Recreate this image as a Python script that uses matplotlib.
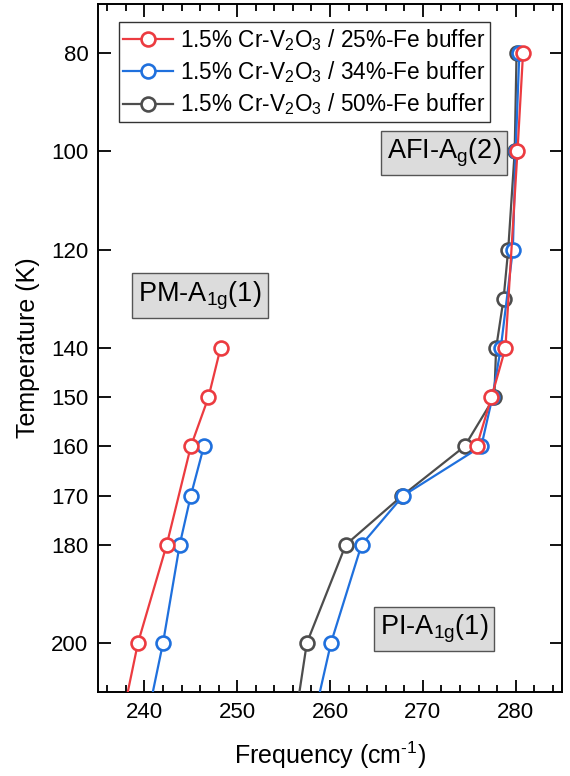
import numpy as np
import matplotlib
matplotlib.use('Agg')
from matplotlib import pyplot as plt

plt.rcParams['font.family'] = ['Liberation Sans', 'DejaVu Sans']
plt.rcParams['mathtext.fontset'] = 'custom'
plt.rcParams['mathtext.rm'] = 'Liberation Sans'
plt.rcParams['mathtext.it'] = 'Liberation Sans:italic'

#series labels and colours
labels = ['1.5% Cr-V$_\\mathregular{2}$O$_\\mathregular{3}$ / 25%-Fe buffer',
          '1.5% Cr-V$_\\mathregular{2}$O$_\\mathregular{3}$ / 34%-Fe buffer',
          '1.5% Cr-V$_\\mathregular{2}$O$_\\mathregular{3}$ / 50%-Fe buffer']
colors = ['#ec3b40', '#1f70dd', '#4d4d4d']

#25%-Fe : AFI-Ag(2) branch and PM-A1g(1) branch (last point is off the axis)
T25_afi = [80, 100, 140, 150, 160]
f25_afi = [280.8, 280.2, 278.9, 277.4, 275.8]
T25_pm = [140, 150, 160, 180, 200, 220]
f25_pm = [248.2, 246.9, 245.0, 242.4, 239.3, 237.1]

#34%-Fe
T34_afi = [80, 100, 120, 140, 150, 160, 170, 180, 200, 220]
f34_afi = [280.4, 280.0, 279.7, 278.4, 277.5, 276.3, 267.9, 263.4, 260.1, 257.7]
T34_pm = [160, 170, 180, 200, 220]
f34_pm = [246.4, 245.0, 243.8, 242.0, 239.8]

#50%-Fe
T50_afi = [80, 100, 120, 130, 140, 150, 160, 170, 180, 200, 220]
f50_afi = [280.1, 279.9, 279.2, 278.7, 277.9, 277.7, 274.5, 267.8, 261.7, 257.5, 255.9]

yticks = [80, 100, 120, 140, 150, 160, 170, 180, 200]

fig = plt.figure(figsize=(5.7, 7.76), dpi=100)
ax = fig.add_axes([0.172, 0.108, 0.814, 0.887])

mk = dict(marker='o', markersize=10, markerfacecolor='white', markeredgewidth=1.9, lw=1.6)

#draw 50% first so 25% ends up on top
ax.plot(f50_afi, T50_afi, color=colors[2], label=labels[2], zorder=3, **mk)
ax.plot(f34_afi, T34_afi, color=colors[1], label=labels[1], zorder=4, **mk)
ax.plot(f34_pm, T34_pm, color=colors[1], zorder=4, **mk)
ax.plot(f25_afi, T25_afi, color=colors[0], label=labels[0], zorder=5, **mk)
ax.plot(f25_pm, T25_pm, color=colors[0], zorder=5, **mk)

ax.set_xlim(235, 285)
ax.set_ylim(210, 70)
ax.set_xticks([240, 250, 260, 270, 280])
ax.set_xticks(np.arange(236, 285, 2), minor=True)
ax.set_yticks(yticks)
ax.tick_params(axis='both', which='both', direction='in', top=True, right=True, width=1.3, labelsize=16)
ax.tick_params(axis='both', which='major', length=9, pad=7)
ax.tick_params(axis='x', which='minor', length=5)
for s in ax.spines.values():
    s.set_linewidth(1.4)

ax.set_xlabel('Frequency (cm$^\\mathregular{\\text{-}1}$)', fontsize=18, labelpad=12)
ax.set_ylabel('Temperature (K)', fontsize=18, labelpad=8)

#mode annotations
box = dict(boxstyle='square,pad=0.22', facecolor='#dcdcdc', edgecolor='#555555', lw=1.0)
ax.text(272.3, 100.3, 'AFI-A$_\\mathregular{g}$(2)', fontsize=19.5, ha='center', va='center', bbox=box, zorder=6)
ax.text(246.0, 129.3, 'PM-A$_\\mathregular{1g}$(1)', fontsize=19.5, ha='center', va='center', bbox=box, zorder=6)
ax.text(271.2, 197.1, 'PI-A$_\\mathregular{1g}$(1)', fontsize=19.5, ha='center', va='center', bbox=box, zorder=6)

h, l = ax.get_legend_handles_labels()
order = [2, 1, 0]
leg = ax.legend([h[i] for i in order], [l[i] for i in order], loc='upper left', bbox_to_anchor=(0.045, 0.973),
                fontsize=16.3, frameon=True, fancybox=False, edgecolor='black', handlelength=2.2,
                handletextpad=0.3, borderpad=0.2, labelspacing=0.28, borderaxespad=0)
leg.get_frame().set_linewidth(1.0)

plt.savefig('out.png', dpi=100)
